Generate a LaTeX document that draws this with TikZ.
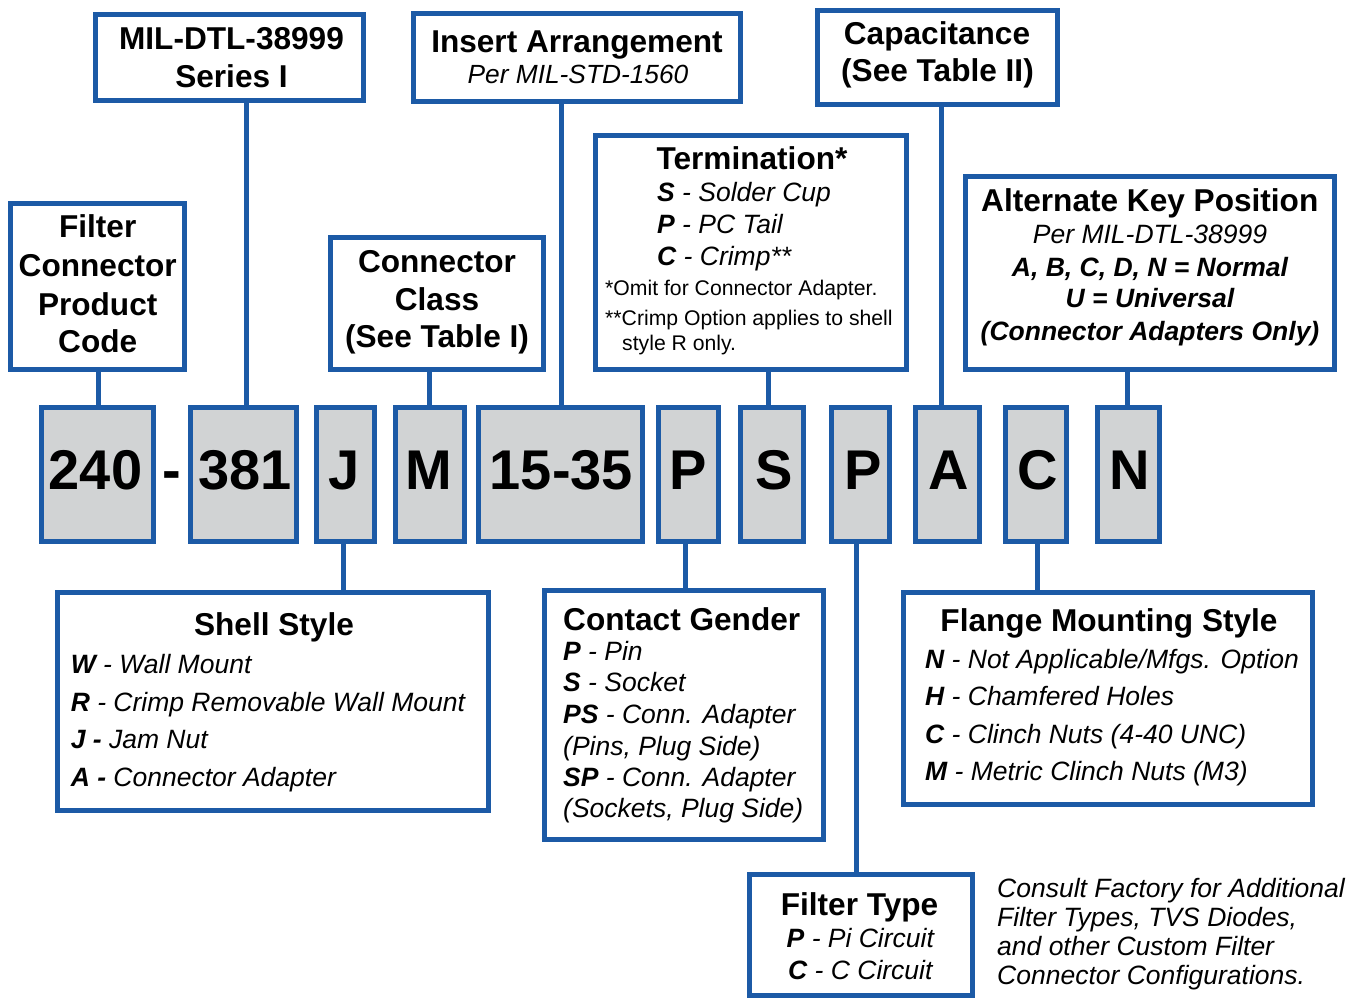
\documentclass[tikz,border=0pt]{standalone}
\usepackage{fontspec}
\setmainfont{Liberation Sans}
\definecolor{bl}{HTML}{1C5AA6}
\definecolor{gr}{HTML}{D1D3D4}
\newcommand\kb[1]{\textbf{#1}}
\tikzset{
  box/.style={draw=bl, line width=5pt, fill=white, inner sep=0pt, outer sep=0pt},
  codebox/.style={box, fill=gr},
  conn/.style={draw=bl, line width=5pt},
  ttl/.style={font=\fontsize{31.6}{38}\selectfont\bfseries, inner sep=0pt, anchor=base},
  itm/.style={font=\fontsize{26.5}{32}\selectfont\itshape, inner sep=0pt, anchor=base west},
  itmc/.style={font=\fontsize{26.5}{32}\selectfont\itshape, inner sep=0pt, anchor=base},
  sub/.style={font=\fontsize{26.3}{30}\selectfont\itshape, inner sep=0pt, anchor=base},
  note/.style={font=\fontsize{21.2}{25}\selectfont, inner sep=0pt, anchor=base west},
  codetxt/.style={font=\fontsize{56}{60}\selectfont\bfseries, inner sep=0pt, anchor=base},
  cons/.style={font=\fontsize{26.5}{29}\selectfont\itshape, inner sep=0pt, anchor=base west},
}
\begin{document}
\begin{tikzpicture}[x=1pt,y=-1pt]
\useasboundingbox (0,0) rectangle (1348,998);

% ---------- top boxes ----------
\node[box, minimum width=174pt, minimum height=166pt] (fcpc) at (97.7,286) {};
\node[ttl] (fcpc1) at (97.7,237.3) {Filter};
\node[ttl] (fcpc2) at (97.7,276) {Connector};
\node[ttl] (fcpc3) at (97.7,315) {Product};
\node[ttl] (fcpc4) at (97.7,352.7) {Code};

\node[box, minimum width=268pt, minimum height=85pt] (mil) at (229,57.5) {};
\node[ttl] (mil1) at (231.5,49.3) {MIL-DTL-38999};
\node[ttl] (mil2) at (231.5,87.3) {Series I};

\node[box, minimum width=213pt, minimum height=132pt] (cls) at (436.7,303) {};
\node[ttl] (cls1) at (437,272.7) {Connector};
\node[ttl] (cls2) at (437,310.7) {Class};
\node[ttl] (cls3) at (437,347.7) {(See Table I)};

\node[box, minimum width=327pt, minimum height=87pt] (ins) at (576.5,57.5) {};
\node[ttl] (ins1) at (577,52.3) {Insert Arrangement};
\node[sub] (ins2) at (578,83) {Per MIL-STD-1560};

\node[box, minimum width=311pt, minimum height=234pt] (ter) at (750.5,252) {};
\node[ttl] (ter1) at (752,169.3) {Termination*};
\node[itm] (ter2) at (657,201.7) {\kb{S} - Solder Cup};
\node[itm] (ter3) at (657,233.3) {\kb{P} - PC Tail};
\node[itm] (ter4) at (657,265) {\kb{C} - Crimp**};
\node[note] (ter5) at (605,295) {*Omit for Connector Adapter.};
\node[note] (ter6) at (605,325) {**Crimp Option applies to shell};
\node[note] (ter7) at (622,350) {style R only.};

\node[box, minimum width=240pt, minimum height=94pt] (cap) at (937,57.5) {};
\node[ttl] (cap1) at (937,45) {Capacitance};
\node[ttl] (cap2) at (937.5,81.7) {(See Table II)};

\node[box, minimum width=369pt, minimum height=193pt] (alt) at (1149.5,272.5) {};
\node[ttl] (alt1) at (1149.8,211.7) {Alternate Key Position};
\node[itmc] (alt2) at (1150,243.3) {Per MIL-DTL-38999};
\node[itmc] (alt3) at (1150,276) {\bfseries A, B, C, D, N = Normal};
\node[itmc] (alt4) at (1150,307.3) {\bfseries U = Universal};
\node[itmc] (alt5) at (1150,340) {\bfseries (Connector Adapters Only)};

% ---------- code boxes ----------
\node[codebox, minimum width=112pt, minimum height=134pt] (c240) at (97,474) {};
\node[codebox, minimum width=106pt, minimum height=134pt] (c381) at (243,474) {};
\node[codebox, minimum width=58pt, minimum height=134pt] (cJ) at (345,474) {};
\node[codebox, minimum width=69pt, minimum height=134pt] (cM) at (429.5,474) {};
\node[codebox, minimum width=164pt, minimum height=134pt] (c1535) at (560,474) {};
\node[codebox, minimum width=60pt, minimum height=134pt] (cP) at (688,474) {};
\node[codebox, minimum width=63pt, minimum height=134pt] (cS) at (771.5,474) {};
\node[codebox, minimum width=58pt, minimum height=134pt] (cF) at (860,474) {};
\node[codebox, minimum width=64pt, minimum height=134pt] (cA) at (947,474) {};
\node[codebox, minimum width=61pt, minimum height=134pt] (cC) at (1035.5,474) {};
\node[codebox, minimum width=62pt, minimum height=134pt] (cN) at (1128,474) {};

\node[codetxt] (t240) at (95.5,489.3) {240};
\node[codetxt] (tdash) at (172,489.3) {-};
\node[codetxt] (t381) at (245,489.3) {381};
\node[codetxt] (tJ) at (344.4,489.3) {J};
\node[codetxt] (tM) at (428.6,489.3) {M};
\node[codetxt] (t1535) at (561.4,489.3) {15-35};
\node[codetxt] (tP) at (688.5,489.3) {P};
\node[codetxt] (tS) at (774,489.3) {S};
\node[codetxt] (tF) at (863,489.3) {P};
\node[codetxt] (tA) at (949,489.3) {A};
\node[codetxt] (tC) at (1037.7,489.3) {C};
\node[codetxt] (tN) at (1129.6,489.3) {N};

% ---------- bottom boxes ----------
\node[box, minimum width=431pt, minimum height=218pt] (shl) at (272.7,701) {};
\node[ttl] (shl1) at (274,635) {Shell Style};
\node[itm] (shl2) at (70.6,673.3) {\kb{W} - Wall Mount};
\node[itm] (shl3) at (70.6,711) {\kb{R} - Crimp Removable Wall Mount};
\node[itm] (shl4) at (70.6,748.5) {\kb{J -} Jam Nut};
\node[itm] (shl5) at (70.6,786) {\kb{A -} Connector Adapter};

\node[box, minimum width=279pt, minimum height=249pt] (gen) at (684,714.5) {};
\node[ttl, anchor=base west] (gen1) at (563,630) {Contact Gender};
\node[itm] (gen2) at (563,660) {\kb{P} - Pin};
\node[itm] (gen3) at (563,691.7) {\kb{S} - Socket};
\node[itm] (gen4) at (563,723.3) {\kb{PS} - Conn. Adapter};
\node[itm] (gen5) at (563,755) {(Pins, Plug Side)};
\node[itm] (gen6) at (563,786) {\kb{SP} - Conn. Adapter};
\node[itm] (gen7) at (563,817.3) {(Sockets, Plug Side)};

\node[box, minimum width=409pt, minimum height=212pt] (fla) at (1107.5,698) {};
\node[ttl] (fla1) at (1109,631.7) {Flange Mounting Style};
\node[itm] (fla2) at (925,668.3) {\kb{N} - Not Applicable/Mfgs. Option};
\node[itm] (fla3) at (925,705) {\kb{H} - Chamfered Holes};
\node[itm] (fla4) at (925,743.3) {\kb{C} - Clinch Nuts (4-40 UNC)};
\node[itm] (fla5) at (925,780) {\kb{M} - Metric Clinch Nuts (M3)};

\node[box, minimum width=223pt, minimum height=121pt] (fil) at (860.7,935.4) {};
\node[ttl] (fil1) at (859.5,915) {Filter Type};
\node[itm] (fil2) at (786.5,947.3) {\kb{P} - Pi Circuit};
\node[itm] (fil3) at (788,979.3) {\kb{C} - C Circuit};

\node[cons] (con1) at (997,897) {Consult Factory for Additional};
\node[cons] (con2) at (997,926) {Filter Types, TVS Diodes,};
\node[cons] (con3) at (997,955) {and other Custom Filter};
\node[cons] (con4) at (997,984) {Connector Configurations.};

% ---------- connectors ----------
\coordinate (k240) at (98,0);
\coordinate (k381) at (246,0);
\coordinate (kJ) at (343.5,0);
\coordinate (kM) at (429.3,0);
\coordinate (k1535) at (561.3,0);
\coordinate (kP) at (685.5,0);
\coordinate (kS) at (768.8,0);
\coordinate (kF) at (856.8,0);
\coordinate (kA) at (941.6,0);
\coordinate (kC) at (1037,0);
\coordinate (kN) at (1127.6,0);

\draw[conn] (fcpc.south -| k240) -- (c240.north -| k240);
\draw[conn] (mil.south -| k381) -- (c381.north -| k381);
\draw[conn] (cls.south -| kM) -- (cM.north -| kM);
\draw[conn] (ins.south -| k1535) -- (c1535.north -| k1535);
\draw[conn] (ter.south -| kS) -- (cS.north -| kS);
\draw[conn] (cap.south -| kA) -- (cA.north -| kA);
\draw[conn] (alt.south -| kN) -- (cN.north -| kN);
\draw[conn] (cJ.south -| kJ) -- (shl.north -| kJ);
\draw[conn] (cP.south -| kP) -- (gen.north -| kP);
\draw[conn] (cF.south -| kF) -- (fil.north -| kF);
\draw[conn] (cC.south -| kC) -- (fla.north -| kC);
\end{tikzpicture}
\end{document}
